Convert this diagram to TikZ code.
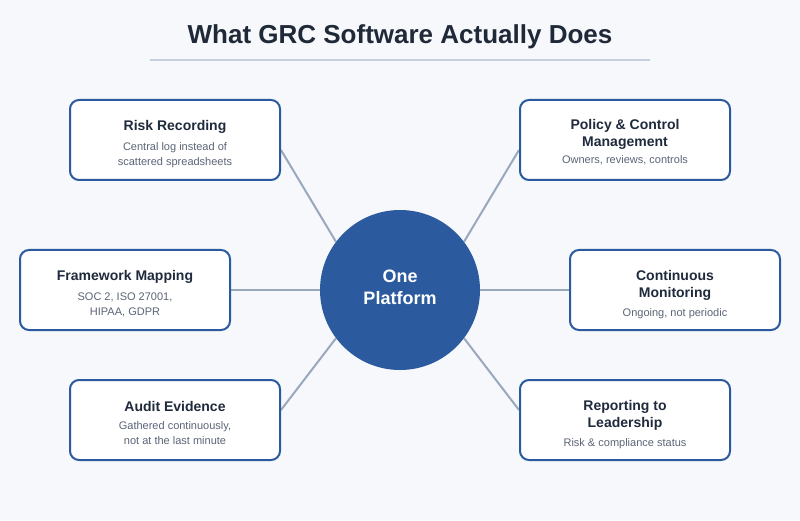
\documentclass[tikz,border=0pt]{standalone}
\usepackage{fontspec}
\setmainfont{Liberation Sans}
\usetikzlibrary{backgrounds}
\definecolor{bgc}{HTML}{F6F8FC}
\definecolor{blu}{HTML}{2B5A9E}
\definecolor{conn}{HTML}{9AA8BC}
\definecolor{rulec}{HTML}{C8CFDC}
\definecolor{ttl}{HTML}{1F2937}
\definecolor{btl}{HTML}{1F2A3C}
\definecolor{subc}{HTML}{5B6577}
\tikzset{
  card/.style={draw=blu, line width=2pt, fill=white, rounded corners=9pt, minimum width=210pt, minimum height=80pt, inner sep=0pt},
  cardtitle/.style={text=btl, font=\fontsize{14}{17.5}\selectfont\bfseries, align=center, inner sep=0pt},
  cardsub/.style={text=subc, font=\fontsize{11}{15}\selectfont, align=center, inner sep=0pt},
  link/.style={draw=conn, line width=2pt},
  hub/.style={circle, fill=blu, minimum size=160pt, inner sep=0pt, text=white, font=\fontsize{18}{22}\selectfont\bfseries, align=center}
}
\begin{document}
\begin{tikzpicture}[x=1pt,y=1pt]
\begin{pgfonlayer}{background}
\fill[bgc] (0,0) rectangle (800,520);
\end{pgfonlayer}
\useasboundingbox (0,0) rectangle (800,520);

\node[text=ttl, font=\fontsize{26}{30}\selectfont\bfseries, inner sep=0pt] (title) at (400,483) {What GRC Software Actually Does};
\coordinate (ruleL) at (150,460);
\coordinate (ruleR) at (650,460);
\draw[rulec, line width=2pt] (ruleL) -- (ruleR);

\node[circle, fill=blu, minimum size=160pt, inner sep=0pt] (hub) at (400,230) {};
\node[text=white, font=\fontsize{18}{22}\selectfont\bfseries, align=center, inner sep=0pt] (hubt) at (400,232.5) {One\\Platform};

\node[card] (risk) at (175,380) {};
\node[cardtitle] (riskt) at (175,393.5) {Risk Recording};
\node[cardsub] (risks) at (175,364.5) {Central log instead of\\scattered spreadsheets};

\node[card] (policy) at (625,380) {};
\node[cardtitle] (policyt) at (625,385.5) {Policy \& Control\\Management};
\node[cardsub] (policys) at (625,359.5) {Owners, reviews, controls};

\node[card] (frame) at (125,230) {};
\node[cardtitle] (framet) at (125,243.5) {Framework Mapping};
\node[cardsub] (frames) at (125,215.5) {SOC 2, ISO 27001,\\HIPAA, GDPR};

\node[card] (cont) at (675,230) {};
\node[cardtitle] (contt) at (675,234.5) {Continuous\\Monitoring};
\node[cardsub] (conts) at (675,206.5) {Ongoing, not periodic};

\node[card] (audit) at (175,100) {};
\node[cardtitle] (auditt) at (175,113.5) {Audit Evidence};
\node[cardsub] (audits) at (175,86.5) {Gathered continuously,\\not at the last minute};

\node[card] (report) at (625,100) {};
\node[cardtitle] (reportt) at (625,104.5) {Reporting to\\Leadership};
\node[cardsub] (reports) at (625,76.5) {Risk \& compliance status};

\begin{pgfonlayer}{background}
\draw[link] (hub.143) -- ([yshift=-10pt]risk.east);
\draw[link] (hub.37) -- ([yshift=-10pt]policy.west);
\draw[link] (hub.west) -- (frame.east);
\draw[link] (hub.east) -- (cont.west);
\draw[link] (hub.217) -- ([yshift=10pt]audit.east);
\draw[link] (hub.323) -- ([yshift=10pt]report.west);
\end{pgfonlayer}
\end{tikzpicture}
\end{document}
